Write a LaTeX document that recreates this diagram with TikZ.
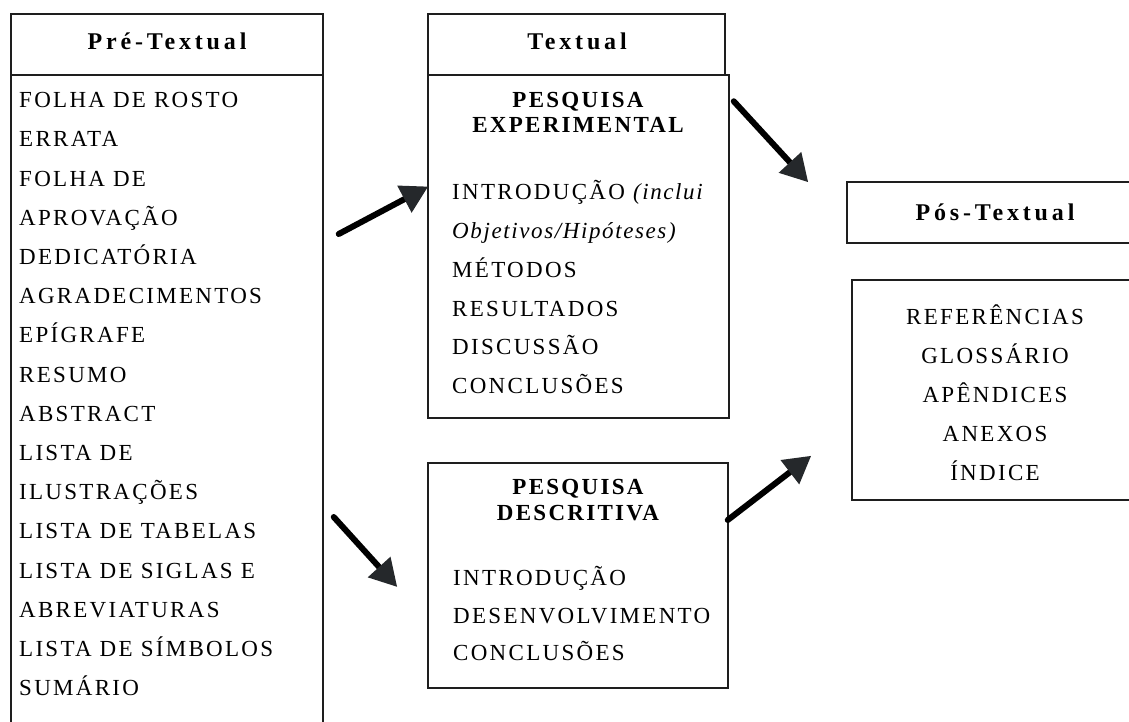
\documentclass[tikz,border=0pt]{standalone}
\usepackage{fontspec}
\setmainfont{Liberation Serif}
\newfontfamily\bodyfont[LetterSpace=10]{Liberation Serif}
\newfontfamily\itbodyfont[LetterSpace=7]{Liberation Serif}
\newfontfamily\headfont[LetterSpace=16]{Liberation Serif}
\usetikzlibrary{arrows.meta,calc}
\definecolor{headgray}{HTML}{25282B}
\definecolor{linegray}{HTML}{1E1E1E}
\tikzset{
  boxframe/.style={draw=linegray, line width=1.5pt, rectangle, inner sep=0pt},
  itemtext/.style={anchor=base west, inner sep=0pt, font=\bodyfont\fontsize{23}{26}\selectfont},
  centtext/.style={anchor=base, inner sep=0pt, font=\bodyfont\fontsize{23}{26}\selectfont},
  subhead/.style={anchor=base, inner sep=0pt, font=\bodyfont\bfseries\fontsize{23}{26}\selectfont},
  titletext/.style={anchor=base, inner sep=0pt, font=\headfont\bfseries\fontsize{24}{26}\selectfont},
  bigarrow/.style={line width=6pt, line cap=round, black,
    -{Triangle[length=27pt,width=29pt,color=headgray,fill=headgray]}}
}
\begin{document}
\begin{tikzpicture}[x=1pt,y=-1pt]
\useasboundingbox (0,0) rectangle (1129,722);
\fill[white] (0,0) rectangle (1129,722);
\begin{scope}
\clip (0,0) rectangle (1129,722);
% boxes
\node[boxframe, minimum width=312pt, minimum height=61pt] (prehead) at (167,44.5) {};
\node[boxframe, minimum width=312pt, minimum height=680pt] (prebody) at (167,415) {};
\node[boxframe, minimum width=297pt, minimum height=61pt] (texthead) at (576.5,44.5) {};
\node[boxframe, minimum width=301pt, minimum height=343pt] (exp) at (578.5,246.5) {};
\node[boxframe, minimum width=300pt, minimum height=225pt] (desc) at (578,575.5) {};
\node[boxframe, minimum width=292pt, minimum height=61pt] (posthead) at (993,212.5) {};
\node[boxframe, minimum width=286pt, minimum height=220pt] (postbody) at (995,390) {};
\end{scope}
% titles
\node[titletext] (tpre) at (167,50) {Pré-Textual};
\node[titletext] (ttext) at (577,50) {Textual};
\node[titletext] (tpost) at (995,220) {Pós-Textual};
% left list
\foreach \t [count=\i] in {FOLHA DE ROSTO, ERRATA, FOLHA DE, APROVAÇÃO, DEDICATÓRIA, AGRADECIMENTOS, EPÍGRAFE, RESUMO, ABSTRACT, LISTA DE, ILUSTRAÇÕES, LISTA DE TABELAS, LISTA DE SIGLAS E, ABREVIATURAS, LISTA DE SÍMBOLOS, SUMÁRIO}
  \node[itemtext] (pre\i) at (19,{100+7.6+(\i-1)*39.2}) {\t};
% experimental
\node[subhead] (eh1) at (578,107.6) {PESQUISA};
\node[subhead] (eh2) at (578,132.6) {EXPERIMENTAL};
\node[itemtext] (e1) at (452,199.6) {INTRODUÇÃO {\itbodyfont\itshape(inclui}};
\node[itemtext, font=\itbodyfont\itshape\fontsize{23}{26}\selectfont] (e2) at (452,238.4) {Objetivos/Hipóteses)};
\node[itemtext] (e3) at (452,277.2) {MÉTODOS};
\node[itemtext] (e4) at (452,316) {RESULTADOS};
\node[itemtext] (e5) at (452,354.8) {DISCUSSÃO};
\node[itemtext] (e6) at (452,393.6) {CONCLUSÕES};
% descritiva
\node[subhead] (dh1) at (578,494.6) {PESQUISA};
\node[subhead] (dh2) at (578,520.6) {DESCRITIVA};
\node[itemtext] (d1) at (453,585.6) {INTRODUÇÃO};
\node[itemtext] (d2) at (453,623.1) {DESENVOLVIMENTO};
\node[itemtext] (d3) at (453,660.6) {CONCLUSÕES};
% pos-textual
\foreach \t [count=\i] in {REFERÊNCIAS, GLOSSÁRIO, APÊNDICES, ANEXOS, ÍNDICE}
  \node[centtext] (post\i) at (995,{317+7.6+(\i-1)*39}) {\t};
% arrows
\coordinate (a1s) at ($(prebody.east)+(15,-181)$);
\coordinate (a1e) at ($(exp.west)+(1,-60)$);
\coordinate (a2s) at ($(exp.north east)+(4,27)$);
\coordinate (a2e) at ($(posthead.north west)+(-38,1)$);
\coordinate (a3s) at ($(prebody.east)+(10,102)$);
\coordinate (a3e) at ($(desc.west)+(-30,11.5)$);
\coordinate (a4s) at ($(desc.east)+(-1,-55.5)$);
\coordinate (a4e) at ($(postbody.south west)+(-40,-45)$);
\draw[bigarrow] (a1s) -- (a1e);
\draw[bigarrow] (a2s) -- (a2e);
\draw[bigarrow] (a3s) -- (a3e);
\draw[bigarrow] (a4s) -- (a4e);
\end{tikzpicture}
\end{document}
